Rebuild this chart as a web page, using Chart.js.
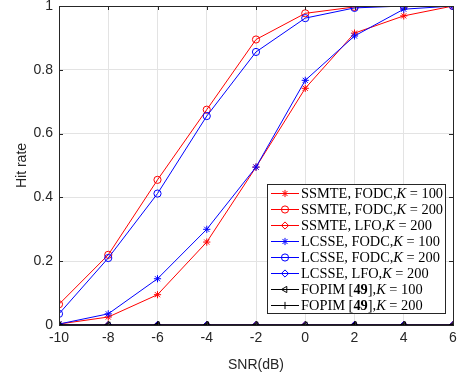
<!DOCTYPE html>
<html>
<head>
<meta charset="utf-8">
<script src="https://cdn.jsdelivr.net/npm/chart.js@4.4.1/dist/chart.umd.min.js"></script>
<style>
html, body { margin: 0; padding: 0; background: #fff; }
#wrap { width: 460px; height: 374px; }
</style>
</head>
<body>
<div id="wrap"><canvas id="c" width="460" height="374"></canvas></div>
<script>
// SNR values (dB)
var snr = [-10, -8, -6, -4, -2, 0, 2, 4, 6];

// hit rates
var ssmteFodc100 = [0.003, 0.025, 0.095, 0.26, 0.495, 0.742, 0.915, 0.969, 1.0];
var ssmteFodc200 = [0.065, 0.22, 0.455, 0.675, 0.895, 0.977, 0.997, 1.0, 1.0];
var ssmteLfo200  = [0, 0, 0, 0, 0, 0, 0, 0, 0];
var lcsseFodc100 = [0.003, 0.035, 0.145, 0.3, 0.495, 0.767, 0.906, 0.99, 1.0];
var lcsseFodc200 = [0.035, 0.21, 0.412, 0.655, 0.856, 0.962, 0.994, 1.0, 1.0];
var lcsseLfo200  = [0, 0, 0, 0, 0, 0, 0, 0, 0];
var fopim100     = [0, 0, 0, 0, 0, 0, 0, 0, 0];
var fopim200     = [0, 0, 0, 0, 0, 0, 0, 0, 0];

var xTicks = [-10, -8, -6, -4, -2, 0, 2, 4, 6];
var yTicks = [0, 0.2, 0.4, 0.6, 0.8, 1];

// legend text pieces: [text, style]  (n normal, i italic, b bold)
var legendText = [
  [["SSMTE, FODC,", "n"], ["K", "i"], [" = 100", "n"]],
  [["SSMTE, FODC,", "n"], ["K", "i"], [" = 200", "n"]],
  [["SSMTE, LFO,", "n"], ["K", "i"], [" = 200", "n"]],
  [["LCSSE, FODC,", "n"], ["K", "i"], [" = 100", "n"]],
  [["LCSSE, FODC,", "n"], ["K", "i"], [" = 200", "n"]],
  [["LCSSE, LFO,", "n"], ["K", "i"], [" = 200", "n"]],
  [["FOPIM [", "n"], ["49", "b"], ["],", "n"], ["K", "i"], [" = 100", "n"]],
  [["FOPIM [", "n"], ["49", "b"], ["],", "n"], ["K", "i"], [" = 200", "n"]]
];

function pts(ys) {
  return snr.map(function (x, i) { return { x: x, y: ys[i] }; });
}

function ds(label, ys, color, style, rot, idx) {
  return {
    label: label,
    data: pts(ys),
    borderColor: color,
    backgroundColor: 'rgba(0,0,0,0)',
    borderWidth: 1,
    pointStyle: style,
    pointRotation: rot,
    pointRadius: 3.6,
    pointBorderColor: color,
    pointBackgroundColor: 'rgba(0,0,0,0)',
    pointBorderWidth: 1,
    tension: 0,
    order: 10 - idx
  };
}

var red = '#ff0000', blue = '#0000ff', black = '#000000';

var datasets = [
  ds('SSMTE, FODC,K = 100', ssmteFodc100, red, 'star', 0, 0),
  ds('SSMTE, FODC,K = 200', ssmteFodc200, red, 'circle', 0, 1),
  ds('SSMTE, LFO,K = 200', ssmteLfo200, red, 'rectRot', 0, 2),
  ds('LCSSE, FODC,K = 100', lcsseFodc100, blue, 'star', 0, 3),
  ds('LCSSE, FODC,K = 200', lcsseFodc200, blue, 'circle', 0, 4),
  ds('LCSSE, LFO,K = 200', lcsseLfo200, blue, 'rectRot', 0, 5),
  ds('FOPIM [49],K = 100', fopim100, black, 'triangle', -90, 6),
  ds('FOPIM [49],K = 200', fopim200, black, 'cross', 0, 7)
];

var serif = '"Liberation Serif", "DejaVu Serif", serif';
var sans = 'Helvetica, Arial, "Liberation Sans", sans-serif';

var frame = {
  id: 'frame',
  afterDatasetsDraw: function (chart) {
    var ctx = chart.ctx, a = chart.chartArea;
    var xs = chart.scales.x, ys = chart.scales.y;
    ctx.save();
    ctx.strokeStyle = '#262626';
    ctx.lineWidth = 1;
    ctx.strokeRect(Math.round(a.left) + 0.5, Math.round(a.top) + 0.5,
      Math.round(a.right - a.left), Math.round(a.bottom - a.top));
    // inward tick marks
    ctx.beginPath();
    xTicks.forEach(function (v) {
      var px = Math.round(xs.getPixelForValue(v)) + 0.5;
      ctx.moveTo(px, a.bottom); ctx.lineTo(px, a.bottom - 4);
      ctx.moveTo(px, a.top); ctx.lineTo(px, a.top + 4);
    });
    yTicks.forEach(function (v) {
      var py = Math.round(ys.getPixelForValue(v)) + 0.5;
      ctx.moveTo(a.left, py); ctx.lineTo(a.left + 4, py);
      ctx.moveTo(a.right, py); ctx.lineTo(a.right - 4, py);
    });
    ctx.stroke();
    ctx.restore();
  },
  afterDraw: function (chart) {
    var ctx = chart.ctx;
    var bx = 267, by = 184, bw = 178, bh = 129, rowH = 16;
    ctx.save();
    ctx.fillStyle = '#fff';
    ctx.fillRect(bx, by, bw, bh);
    ctx.strokeStyle = '#262626';
    ctx.lineWidth = 1;
    ctx.strokeRect(bx + 0.5, by + 0.5, bw, bh);
    chart.data.datasets.forEach(function (d, i) {
      var cy = by + 9 + i * rowH;
      ctx.strokeStyle = d.borderColor;
      ctx.fillStyle = 'rgba(0,0,0,0)';
      ctx.lineWidth = 1;
      ctx.beginPath();
      ctx.moveTo(bx + 4, cy + 0.5);
      ctx.lineTo(bx + 32, cy + 0.5);
      ctx.stroke();
      Chart.helpers.drawPoint(ctx, {
        pointStyle: d.pointStyle, rotation: d.pointRotation,
        radius: d.pointRadius, borderWidth: 1
      }, bx + 18, cy + 0.5);
      var tx = bx + 34;
      ctx.fillStyle = '#000';
      ctx.textBaseline = 'middle';
      legendText[i].forEach(function (p) {
        var f = (p[1] === 'i' ? 'italic ' : '') + (p[1] === 'b' ? 'bold ' : '') + '14.4px ' + serif;
        ctx.font = f;
        ctx.fillText(p[0], tx, cy + 1);
        tx += ctx.measureText(p[0]).width;
      });
    });
    ctx.restore();
  }
};

new Chart(document.getElementById('c'), {
  type: 'line',
  data: { datasets: datasets },
  plugins: [frame],
  options: {
    responsive: false,
    animation: false,
    layout: { padding: { left: 0, right: 7, top: 6, bottom: 0 } },
    plugins: { legend: { display: false }, tooltip: { enabled: false } },
    scales: {
      x: {
        type: 'linear', min: -10, max: 6,
        afterBuildTicks: function (s) { s.ticks = xTicks.map(function (v) { return { value: v }; }); },
        afterFit: function (s) { s.height = 49; s.paddingLeft = 0; s.paddingRight = 0; },
        grid: { color: '#e3e3e3', drawTicks: false },
        border: { display: false },
        ticks: { color: '#262626', font: { family: sans, size: 14 }, padding: 5, maxRotation: 0 },
        title: { display: true, text: 'SNR(dB)', color: '#262626', font: { family: sans, size: 14 }, padding: { top: 2, bottom: 0 } }
      },
      y: {
        min: 0, max: 1,
        afterBuildTicks: function (s) { s.ticks = yTicks.map(function (v) { return { value: v }; }); },
        afterFit: function (s) { s.width = 59; s.paddingTop = 0; s.paddingBottom = 0; },
        grid: { color: '#e3e3e3', drawTicks: false },
        border: { display: false },
        ticks: { color: '#262626', font: { family: sans, size: 14 }, padding: 6,
          callback: function (v) { return String(Math.round(v * 10) / 10); } },
        title: { display: true, text: 'Hit rate', color: '#262626', font: { family: sans, size: 14 }, padding: { top: 14, bottom: 6 } }
      }
    }
  }
});
</script>
</body>
</html>
